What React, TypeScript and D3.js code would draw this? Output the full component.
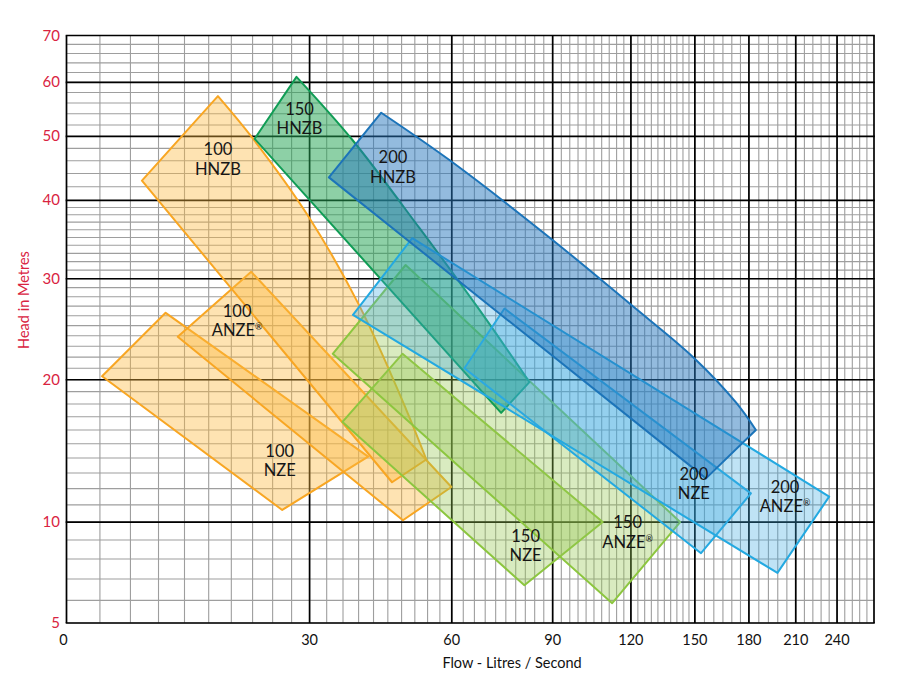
import { useEffect, useRef } from 'react';
import * as d3 from 'd3';

type Pt = [number, number]; // [flow l/s, head m]

// axis ticks
const xTicks = [0, 30, 60, 90, 120, 150, 180, 210, 240];
const yTicks = [5, 10, 20, 30, 40, 50, 60, 70];
const xMax = 270;

// minor grid values
const xMinor = [...d3.range(0, 150, 3), ...d3.range(150, 180, 5), ...d3.range(180, 270, 6)];
const yMinor = [...d3.range(5, 40, 1), ...d3.range(40, 70, 2)];

// pump operating zones
const nze100: Pt[] = [[9.8, 26.3], [40.9, 14.1], [25.5, 10.7], [3.2, 20.3]];
const anze100: Pt[] = [[20.8, 30.8], [59.9, 12.1], [48.3, 10.1], [11.2, 23.9]];
const hnzb100: Pt[] = [[16.2, 57.3], [21.0, 49.7], [29.7, 37.9], [39.2, 27.0], [49.1, 17.5], [53.7, 13.9], [45.9, 12.4], [7.2, 42.9]];
const nze150: Pt[] = [[48.2, 22.3], [108.4, 10.0], [80.7, 6.7], [35.9, 16.6]];
const anze150: Pt[] = [[48.9, 31.6], [142.6, 10.0], [112.2, 5.87], [34.1, 22.3]];
const hnzb150: Pt[] = [[27.8, 61.1], [37.8, 49.4], [52.1, 36.2], [67.4, 26.6], [82.3, 19.8], [73.6, 17.3], [21.3, 49.6]];
const nze200: Pt[] = [[74.6, 26.75], [181.2, 11.7], [153.2, 8.3], [63.3, 21.0]];
const anze200: Pt[] = [[50.4, 34.9], [234.0, 11.5], [197.8, 7.3], [37.9, 26.1]];
const hnzb200: Pt[] = [[43.6, 54.2], [59.4, 46.1], [88.9, 35.0], [119.3, 27.3], [149.7, 21.9], [172.5, 18.1], [184.2, 16.0], [155.8, 12.65], [33.4, 43.4]];

// label anchors [flow, head]
const labelNames = [
  ['100', 'HNZB'], ['150', 'HNZB'], ['200', 'HNZB'],
  ['100', 'ANZE'], ['100', 'NZE'], ['150', 'NZE'],
  ['150', 'ANZE'], ['200', 'NZE'], ['200', 'ANZE'],
];
const labelAt: Pt[] = [
  [16.2, 46.2], [28.3, 53.1], [46.1, 45.0],
  [18.8, 25.5], [25.1, 13.8], [81.1, 8.7],
  [118.6, 9.44], [149.5, 12.3], [202.8, 11.5],
];

const orange = { stroke: '#f8a623', fill: 'rgba(252,186,62,0.4)' };
const green = { stroke: '#109c55', fill: 'rgba(36,164,84,0.52)' };
const lime = { stroke: '#8cc63f', fill: 'rgba(150,200,80,0.36)' };
const blue = { stroke: '#1c74b9', fill: 'rgba(40,120,190,0.5)' };
const sky = { stroke: '#23a9e1', fill: 'rgba(60,170,225,0.33)' };

// curved: how many leading points form the smooth (curved) edge
const zones = [
  { pts: nze100, c: orange, curved: 0 }, { pts: anze100, c: orange, curved: 0 }, { pts: hnzb100, c: orange, curved: 6 },
  { pts: nze150, c: lime, curved: 0 }, { pts: anze150, c: lime, curved: 0 }, { pts: hnzb150, c: green, curved: 5 },
  { pts: nze200, c: sky, curved: 0 }, { pts: anze200, c: sky, curved: 0 }, { pts: hnzb200, c: blue, curved: 7 },
];

const W = 909;
const H = 688;
const left = 66.5, right = 874, top = 35.5, bottom = 623;
const FONT = 'Lato, "Open Sans", sans-serif';
const RED = '#d9233f';

export default function App() {
  const svgRef = useRef<SVGSVGElement>(null);

  useEffect(() => {
    if (!svgRef.current) return;
    const svg = d3.select(svgRef.current);
    svg.selectAll('*').remove();

    // both axes are log of (value + offset)
    const xs = d3.scaleLinear().domain([Math.log10(30), Math.log10(xMax + 30)]).range([left, right]);
    const ys = d3.scaleLinear().domain([Math.log10(15), Math.log10(80)]).range([bottom, top]);
    const x = (q: number) => xs(Math.log10(q + 30));
    const y = (h: number) => ys(Math.log10(h + 10));

    svg.append('rect').attr('width', W).attr('height', H).attr('fill', '#fff');

    const grid = svg.append('g');
    // minor grid
    grid.selectAll('.vx').data(xMinor).enter().append('line')
      .attr('x1', d => x(d)).attr('x2', d => x(d)).attr('y1', top).attr('y2', bottom)
      .attr('stroke', '#9e9e9e').attr('stroke-width', 1.1);
    grid.selectAll('.hy').data(yMinor).enter().append('line')
      .attr('y1', d => y(d)).attr('y2', d => y(d)).attr('x1', left).attr('x2', right)
      .attr('stroke', '#9e9e9e').attr('stroke-width', 1.1);
    // major grid
    grid.selectAll('.mx').data([...xTicks, xMax]).enter().append('line')
      .attr('x1', d => x(d)).attr('x2', d => x(d)).attr('y1', top).attr('y2', bottom)
      .attr('stroke', '#000').attr('stroke-width', 1.7);
    grid.selectAll('.my').data(yTicks).enter().append('line')
      .attr('y1', d => y(d)).attr('y2', d => y(d)).attr('x1', left - 0.8).attr('x2', right + 0.8)
      .attr('stroke', '#000').attr('stroke-width', 1.7);

    // zones: smooth leading edge, straight for the rest
    const smooth = d3.line<Pt>().x(d => x(d[0])).y(d => y(d[1])).curve(d3.curveCatmullRom.alpha(0.5));
    const straight = d3.line<Pt>().x(d => x(d[0])).y(d => y(d[1])).curve(d3.curveLinearClosed);
    const zonePath = (z: typeof zones[number]) => {
      if (!z.curved) return straight(z.pts) || '';
      const head = smooth(z.pts.slice(0, z.curved)) || '';
      const rest = z.pts.slice(z.curved).map(p => `L${x(p[0])},${y(p[1])}`).join('');
      return head + rest + 'Z';
    };
    svg.append('g').selectAll('path').data(zones).enter().append('path')
      .attr('d', d => zonePath(d))
      .attr('fill', d => d.c.fill)
      .attr('stroke', d => d.c.stroke)
      .attr('stroke-width', 2)
      .attr('stroke-linejoin', 'round');

    // zone labels
    const lab = svg.append('g').attr('font-family', FONT).attr('font-size', 16.5)
      .attr('fill', '#161616').attr('text-anchor', 'middle');
    labelNames.forEach((n, i) => {
      const [q, h] = labelAt[i];
      lab.append('text').attr('x', x(q)).attr('y', y(h) - 4).text(n[0]);
      const t2 = lab.append('text').attr('x', x(q)).attr('y', y(h) + 15.5);
      t2.append('tspan').text(n[1]);
      if (n[1] === 'ANZE') {
        t2.append('tspan').attr('font-size', 9).attr('dy', -6).text('®');
      }
    });

    // y tick labels
    svg.append('g').selectAll('text').data(yTicks).enter().append('text')
      .attr('x', 60).attr('y', d => y(d) + 5)
      .attr('text-anchor', 'end').attr('font-family', FONT).attr('font-size', 15)
      .attr('fill', RED).text(d => d);

    // x tick labels
    svg.append('g').selectAll('text').data(xTicks).enter().append('text')
      .attr('x', d => (d === 0 ? x(d) - 3 : x(d))).attr('y', 645)
      .attr('text-anchor', 'middle').attr('font-family', FONT).attr('font-size', 14.5)
      .attr('fill', '#111').text(d => d);

    svg.append('text')
      .attr('transform', 'translate(29,300) rotate(-90)')
      .attr('text-anchor', 'middle').attr('font-family', FONT).attr('font-size', 14.5)
      .attr('fill', RED).text('Head in Metres');

    svg.append('text')
      .attr('x', 512).attr('y', 668)
      .attr('text-anchor', 'middle').attr('font-family', FONT).attr('font-size', 14.5)
      .attr('fill', '#111').text('Flow - Litres / Second');
  }, []);

  return (
    <div style={{ position: 'absolute', left: 0, top: 0, width: W, height: H }}>
      <svg ref={svgRef} width={W} height={H} />
    </div>
  );
}
